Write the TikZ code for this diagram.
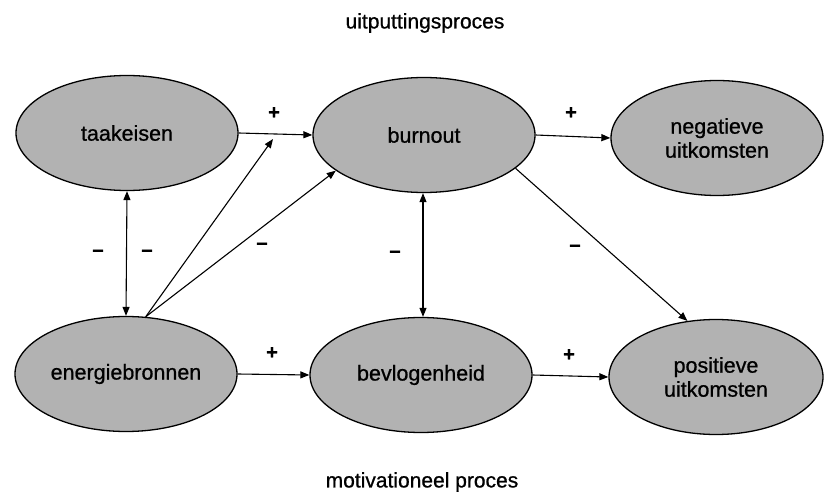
\documentclass[tikz,border=0pt]{standalone}
\usepackage{fontspec}
\setmainfont[FakeBold=0.8]{Liberation Sans}
\usetikzlibrary{shapes.geometric,arrows.meta}
\definecolor{ellfill}{RGB}{178,178,178}
\tikzset{
  ell/.style={ellipse,draw=black,line width=1.3pt,fill=ellfill,inner sep=0pt,
    minimum width=222pt,minimum height=115pt,align=center,
    font=\fontsize{21.5}{24}\selectfont},
  conn/.style={line width=1.1pt,-{Triangle[length=9pt,width=7pt]}},
  dconn/.style={line width=1.1pt,{Triangle[length=9pt,width=7pt]}-{Triangle[length=9pt,width=7pt]}},
  sign/.style={font=\fontsize{20}{22}\selectfont\bfseries,inner sep=0pt},
  ttl/.style={font=\fontsize{21}{24}\selectfont,inner sep=0pt}
}
\begin{document}
\begin{tikzpicture}[x=1pt,y=-1pt]
\useasboundingbox (0,0) rectangle (825,492);
\node[ttl] (t1) at (425,23) {uitputtingsproces};
\node[ttl] (t2) at (422,482) {motivationeel proces};

\node[ell] (taak) at (127,133) {taakeisen};
\node[ell] (burn) at (424,135) {burnout};
\node[ell,minimum width=212pt] (neg) at (717,138) {negatieve\\uitkomsten};
\node[ell] (energ) at (126,374) {energiebronnen};
\node[ell] (bevl) at (421,375) {bevlogenheid};
\node[ell,minimum width=214pt] (pos) at (716,377) {positieve\\uitkomsten};

\coordinate (m) at (273,139);

\draw[conn] (taak.east) -- (burn.west);
\draw[conn] (burn.east) -- (neg.west);
\draw[conn] (energ.east) -- (bevl.west);
\draw[conn] (bevl.east) -- (pos.west);
\draw[dconn] (taak.south) -- (energ.north);
\draw[dconn] ([xshift=-1pt]burn.south) -- ([xshift=2pt]bevl.north);
\draw[conn] (energ.71) -- (m);
\draw[conn] (energ.71) -- (burn.202);
\draw[conn] (burn.-20) -- (pos.117);

\node[sign] (p1) at (274,113) {+};
\node[sign] (p2) at (571,113) {+};
\node[sign] (p3) at (272,353) {+};
\node[sign] (p4) at (569,355) {+};
\node[sign] (n1) at (98,253) {–};
\node[sign] (n2) at (147,253) {–};
\node[sign] (n3) at (262,246) {–};
\node[sign] (n4) at (395,254) {–};
\node[sign] (n5) at (575,248) {–};
\end{tikzpicture}
\end{document}
